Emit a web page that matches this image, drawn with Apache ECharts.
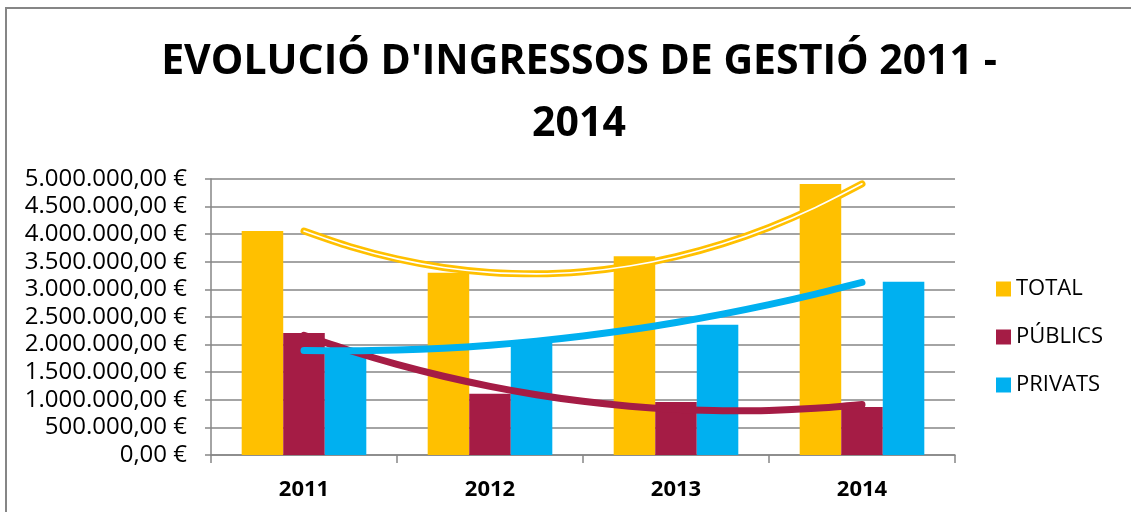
<!DOCTYPE html>
<html>
<head>
<meta charset="UTF-8">
<title>Evolució d'ingressos de gestió</title>
<script type="text/javascript" src="https://cdn.jsdelivr.net/npm/echarts@6/dist/echarts.min.js"></script>
<style>
  html, body { margin: 0; padding: 0; background: #fff; overflow: hidden; }
</style>
</head>
<body>
<div id="main" style="width:1131px;height:512px"></div>

<script type="text/javascript">
  // dades llegides del gràfic
  var anys = ['2011', '2012', '2013', '2014'];
  var total = [4060000, 3300000, 3600000, 4910000];
  var publics = [2210000, 1110000, 960000, 870000];
  var privats = [1880000, 2030000, 2360000, 3140000];

  // línies de tendència (polinòmica), punts llegits de la imatge cada quart de categoria
  var tendX = [1, 1.25, 1.5, 1.75, 2, 2.25, 2.5, 2.75, 3, 3.25, 3.5, 3.75, 4];
  var tendTotal = [4058000, 3773000, 3553000, 3398000, 3308000, 3282000, 3321000,
                   3424000, 3593000, 3825000, 4123000, 4485000, 4913000];
  var tendPublics = [2166000, 1888000, 1641000, 1427000, 1244000, 1092000, 972000,
                     883000, 827000, 801000, 807000, 845000, 915000];
  var tendPrivats = [1894000, 1888000, 1902000, 1936000, 1990000, 2063000, 2156000,
                     2268000, 2401000, 2552000, 2724000, 2915000, 3127000];

  var yTicks = { min: 0, max: 5000000, interval: 500000 };

  var colTotal = '#FFC000', colPublics = '#A51C45', colPrivats = '#00B0F0';
  var gris = '#868686';

  function euro(v) {
    var s = String(Math.round(v));
    var out = '';
    while (s.length > 3) {
      out = '.' + s.slice(-3) + out;
      s = s.slice(0, -3);
    }
    return s + out + ',00 €';
  }

  function parells(xs, ys) {
    var r = [];
    for (var i = 0; i < xs.length; i++) r.push([xs[i], ys[i]]);
    return r;
  }

  var mychart = echarts.init(document.getElementById('main'));
  var font = "'Open Sans', 'Liberation Sans', sans-serif";

  var option = {
    animation: false,
    textStyle: { fontFamily: font },
    title: {
      text: "EVOLUCIÓ D'INGRESSOS DE GESTIÓ 2011 -\n2014",
      left: 574,
      top: 26,
      textAlign: 'center',
      textStyle: { fontFamily: font, fontWeight: 'bold', fontSize: 41, lineHeight: 62, color: '#000' }
    },
    legend: {
      data: ['TOTAL', 'PÚBLICS', 'PRIVATS'],
      orient: 'vertical',
      left: 996,
      top: 278,
      padding: 0,
      itemWidth: 15,
      itemHeight: 15,
      itemGap: 26,
      icon: 'rect',
      textStyle: { fontFamily: font, fontSize: 22, lineHeight: 22, color: '#000' }
    },
    grid: { left: 211, right: 176, top: 179, bottom: 57, containLabel: false },
    graphic: [{
      type: 'rect',
      shape: { x: 6, y: 8, width: 1300, height: 700 },
      style: { fill: 'none', stroke: gris, lineWidth: 2 },
      silent: true
    }],
    xAxis: [{
      type: 'category',
      data: anys,
      axisLine: { lineStyle: { color: gris, width: 1.5 } },
      axisTick: { show: true, length: 8, lineStyle: { color: gris, width: 1.5 } },
      axisLabel: { fontFamily: font, fontWeight: 'bold', fontSize: 22, color: '#000', margin: 24 }
    }, {
      type: 'value',
      min: 0.5,
      max: 4.5,
      show: false
    }],
    yAxis: {
      type: 'value',
      min: yTicks.min,
      max: yTicks.max,
      interval: yTicks.interval,
      axisLine: { show: true, lineStyle: { color: gris, width: 1.5 } },
      axisTick: { show: true, length: 6, lineStyle: { color: gris, width: 1.5 } },
      splitLine: { lineStyle: { color: gris, width: 1.5 } },
      axisLabel: { formatter: euro, fontFamily: font, fontSize: 24, color: '#000', margin: 24 }
    },
    series: [
      { name: 'TOTAL', type: 'bar', data: total, itemStyle: { color: colTotal }, barGap: '0%', barCategoryGap: '33%' },
      { name: 'PÚBLICS', type: 'bar', data: publics, itemStyle: { color: colPublics } },
      { name: 'PRIVATS', type: 'bar', data: privats, itemStyle: { color: colPrivats } },
      {
        name: 'tend_total', type: 'line', xAxisIndex: 1, smooth: 0.3, symbol: 'none', z: 5,
        data: parells(tendX, tendTotal),
        lineStyle: { color: colTotal, width: 7, cap: 'round', join: 'round' }
      },
      {
        name: 'tend_total_interior', type: 'line', xAxisIndex: 1, smooth: 0.3, symbol: 'none', z: 6,
        data: parells(tendX, tendTotal),
        lineStyle: { color: '#fff', width: 1.6, cap: 'round', join: 'round' }
      },
      {
        name: 'tend_publics', type: 'line', xAxisIndex: 1, smooth: 0.3, symbol: 'none', z: 7,
        data: parells(tendX, tendPublics),
        lineStyle: { color: colPublics, width: 7, cap: 'round', join: 'round' }
      },
      {
        name: 'tend_privats', type: 'line', xAxisIndex: 1, smooth: 0.3, symbol: 'none', z: 8,
        data: parells(tendX, tendPrivats),
        lineStyle: { color: colPrivats, width: 7, cap: 'round', join: 'round' }
      }
    ]
  };

  mychart.setOption(option);
</script>
</body>
</html>
